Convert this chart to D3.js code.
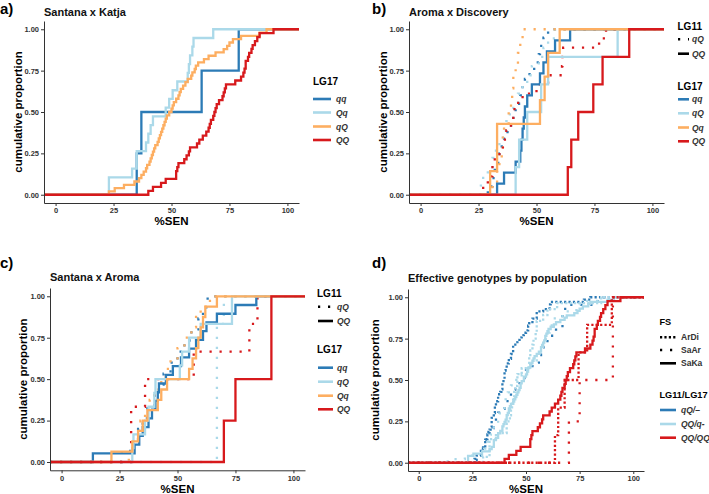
<!DOCTYPE html>
<html>
<head>
<meta charset="utf-8">
<script src="https://cdn.jsdelivr.net/npm/d3@7"></script>
<style>
  body { margin: 0; background: #fff; }
  svg { font-family: "Liberation Sans", Arial, sans-serif; }
</style>
</head>
<body>
<svg width="709" height="494"></svg>
<script>
// Constants
const svg = d3.select('svg');
const colors = { dark: '#2c7bb6', light: '#abd9e9', orange: '#fdae61', red: '#d7191c' };
const x_ticks = [0, 25, 50, 75, 100];
const y_ticks = [0, 0.25, 0.5, 0.75, 1];

// a) Santana x Katja, LG17 groups
const a_qq = [35, 37, 63, 79];
const a_Qq = [23, 23, 33, 35, 35, 39, 40, 41, 42, 47.5, 49, 50.5, 52.5, 57, 57.5, 58, 59, 59.5, 68];
const a_qQ = [23, 25.5, 29.5, 34, 36, 37, 38, 39, 39.5, 40.5, 41, 41.5, 42, 42.5, 43, 44, 44.5, 45, 45.5, 46,
    46.5, 47, 47.5, 48, 49, 50, 50.5, 51, 52, 53, 53.5, 54, 55, 56, 57, 58.5, 59, 60, 60.5, 61.5,
    64, 66, 69, 72.5, 74, 75, 76.5, 80, 88, 91];
const a_QQ = [40, 42, 45.5, 47.5, 52, 52, 52.5, 53, 55.5, 56.5, 57.5, 58, 61, 62, 63.5, 65, 66, 66.5, 67, 68,
    68.5, 69, 69.5, 70.5, 72, 72.5, 73, 73.5, 77.5, 80, 81, 81.5, 82, 82, 83, 83.5, 84.5, 85, 86, 87,
    88, 94];

// b) Aroma x Discovery, LG11 QQ (solid) and qQ (dotted) by LG17
const b_qq_QQ = [33, 36, 41, 43, 43.5, 44, 44.5, 45, 46, 48, 51.5, 53, 54.5, 58, 64.5];
const b_qQ_QQ = [41, 42.5, 46, 52, 55, 85];
const b_Qq_QQ = [30, 33, 33, 51.5, 53.5, 55, 60];
const b_QQ_QQ = [63.5, 65, 68, 74.5, 78.5, 90];
const b_qq_qQ = [29, 31, 32, 33.5, 34, 35, 36, 37.5, 39, 40, 41, 43, 44, 45, 47, 49, 51, 51.5, 53, 55];
const b_qQ_qQ = [26, 27, 29, 31, 32.5, 34, 35.5, 37, 38.5, 40, 42, 44, 46, 48, 51, 53, 55, 58];
const b_Qq_qQ = [31, 33, 34, 35, 35.5, 36, 38, 39, 39.5, 40, 41, 42, 43, 44];
const b_QQ_qQ = [27, 29, 31, 32, 34, 35.5, 37, 39, 40, 40.5, 44, 50, 55, 61, 61.2, 61.5, 77, 80];

// c) Santana x Aroma
const c_qq_QQ = [13.5, 31.5, 33.5, 35, 37.5, 39, 40.5, 41.5, 42, 45, 48, 51.5, 55, 58, 61, 62.5, 67, 75, 84];
const c_qQ_QQ = [30.5, 31, 36, 37.5, 40, 40.5, 51, 52, 55, 60, 73.5, 73.5];
const c_Qq_QQ = [21.5, 30.5, 33, 35, 37, 41.5, 43, 45.5, 55, 56.5, 58, 59, 60, 61, 62, 67];
const c_QQ_QQ = [70, 75, 90.5, 90.5];
const c_qq_qQ = [26, 31, 33, 35, 37, 40, 42, 44, 47, 50, 53, 56, 59, 61, 63];
const c_qQ_qQ = [67, 67, 67, 67, 67, 70];
const c_Qq_qQ = [29, 31, 33, 34, 36, 38, 40, 43, 45, 47, 50, 53, 56, 58, 60, 64];
const c_QQ_qQ = [30, 30, 36, 57, 81, 84.5];

// d) effective genotypes = pooled groups of the three families
const d_ArDi_qQ = [].concat(b_qq_qQ, b_qQ_qQ, b_Qq_qQ, b_QQ_qQ);
const d_ArDi_QQq = [].concat(b_qq_QQ, b_qQ_QQ, b_Qq_QQ);
const d_ArDi_QQQQ = b_QQ_QQ;
const d_SaAr_qQ = [].concat(c_qq_qQ, c_qQ_qQ, c_Qq_qQ, c_QQ_qQ);
const d_SaAr_QQq = [].concat(c_qq_QQ, c_qQ_QQ, c_Qq_QQ);
const d_SaAr_QQQQ = c_QQ_QQ;
const d_SaKa_QQq = [].concat(a_qq, a_Qq, a_qQ);
const d_SaKa_QQQQ = a_QQ;

const dot = '2.2,7.8';
const dense = '2.2,2.2';

const panels = [
    { letter: 'a)', title: 'Santana x Katja', left: 44, right: 299, top: 21, bottom: 203,
      letterXY: [0, 14], titleY: 15.5, ylabX: 17.5, xlabY: 225,
      curves: [
        { v: a_qq, c: colors.dark }, { v: a_Qq, c: colors.light },
        { v: a_qQ, c: colors.orange }, { v: a_QQ, c: colors.red }],
      legend: { x: 313, k0: 313, k1: 331, lx: 336, tsize: 10, groups: [
        { title: 'LG17', ty: 85, items: [
          { label: 'qq', c: colors.dark, y: 99 }, { label: 'Qq', c: colors.light, y: 112.5 },
          { label: 'qQ', c: colors.orange, y: 126.5 }, { label: 'QQ', c: colors.red, y: 140 }] }] } },
    { letter: 'b)', title: 'Aroma x Discovery', left: 409, right: 664, top: 21, bottom: 203,
      letterXY: [372, 14], titleY: 15.5, ylabX: 382.5, xlabY: 225,
      curves: [
        { v: b_qq_qQ, c: colors.dark, d: dot }, { v: b_qQ_qQ, c: colors.light, d: dot },
        { v: b_Qq_qQ, c: colors.orange, d: dot }, { v: b_QQ_qQ, c: colors.red, d: dot },
        { v: b_qq_QQ, c: colors.dark }, { v: b_qQ_QQ, c: colors.light },
        { v: b_Qq_QQ, c: colors.orange }, { v: b_QQ_QQ, c: colors.red }],
      legend: { x: 677.5, k0: 678, k1: 689, lx: 692, tsize: 10, groups: [
        { title: 'LG11', ty: 30, items: [
          { label: 'qQ', c: '#000', d: dot, y: 39.3 }, { label: 'QQ', c: '#000', y: 53.7 }] },
        { title: 'LG17', ty: 90, items: [
          { label: 'qq', c: colors.dark, y: 99.3 }, { label: 'qQ', c: colors.light, y: 113.3 },
          { label: 'Qq', c: colors.orange, y: 127.5 }, { label: 'QQ', c: colors.red, y: 141.3 }] }] } },
    { letter: 'c)', title: 'Santana x Aroma', left: 50, right: 305, top: 288, bottom: 470.3,
      letterXY: [0, 268], titleY: 281, ylabX: 22.5, xlabY: 493,
      curves: [
        { v: c_qq_qQ, c: colors.dark, d: dot }, { v: c_qQ_qQ, c: colors.light, d: dot },
        { v: c_Qq_qQ, c: colors.orange, d: dot }, { v: c_QQ_qQ, c: colors.red, d: dot },
        { v: c_qq_QQ, c: colors.dark }, { v: c_qQ_QQ, c: colors.light },
        { v: c_Qq_QQ, c: colors.orange }, { v: c_QQ_QQ, c: colors.red }],
      legend: { x: 317, k0: 318, k1: 333, lx: 337, tsize: 10, groups: [
        { title: 'LG11', ty: 297, items: [
          { label: 'qQ', c: '#000', d: dot, y: 306.7 }, { label: 'QQ', c: '#000', y: 321 }] },
        { title: 'LG17', ty: 353, items: [
          { label: 'qq', c: colors.dark, y: 367.7 }, { label: 'qQ', c: colors.light, y: 381.7 },
          { label: 'Qq', c: colors.orange, y: 395.7 }, { label: 'QQ', c: colors.red, y: 409.3 }] }] } },
    { letter: 'd)', title: 'Effective genotypes by population', left: 408, right: 644, top: 289, bottom: 471,
      letterXY: [372, 268], titleY: 282, ylabX: 375, xlabY: 493,
      curves: [
        { v: d_ArDi_qQ, c: colors.dark, d: dense }, { v: d_SaAr_qQ, c: colors.dark, d: dot },
        { v: d_ArDi_QQq, c: colors.light, d: dense }, { v: d_SaAr_QQq, c: colors.light, d: dot },
        { v: d_SaKa_QQq, c: colors.light },
        { v: d_ArDi_QQQQ, c: colors.red, d: dense }, { v: d_SaAr_QQQQ, c: colors.red, d: dot },
        { v: d_SaKa_QQQQ, c: colors.red }],
      legend: { x: 659.5, k0: 660, k1: 676, lx: 681, tsize: 9.2, groups: [
        { title: 'FS', ty: 325, items: [
          { label: 'ArDi', c: '#000', d: dense, y: 337.3, up: true }, { label: 'SaAr', c: '#000', d: dot, y: 350, up: true },
          { label: 'SaKa', c: '#000', y: 363.3, up: true }] },
        { title: 'LG11/LG17', ty: 398, items: [
          { label: 'qQ/–', c: colors.dark, y: 410 }, { label: 'QQ/q-', c: colors.light, y: 424 },
          { label: 'QQ/QQ', c: colors.red, y: 437.7 }] }] } }
];

// Step points of an empirical CDF, padded to the panel edges
const ecdf = (values, x0, x1) => {
    const s = values.slice().sort(d3.ascending);
    const n = s.length;
    const pts = [[x0, 0]];
    s.forEach((v, i) => {
        if (i < n - 1 && s[i + 1] === v) return;
        pts.push([v, (i + 1) / n]);
    });
    pts.push([x1, 1]);
    return pts;
};

const render = p => {
    const x = d3.scaleLinear().domain([-5, 105]).range([p.left, p.right]);
    const y = d3.scaleLinear().domain([-0.05, 1.05]).range([p.bottom, p.top]);
    const g = svg.append('g');

    // Curves
    const line = d3.line().x(d => x(d[0])).y(d => y(d[1])).curve(d3.curveStepAfter);
    p.curves.forEach(cv => {
        g.append('path')
            .attr('d', line(ecdf(cv.v, -5, 105)))
            .attr('fill', 'none')
            .attr('stroke', cv.c)
            .attr('stroke-width', 2.3)
            .attr('stroke-dasharray', cv.d || null);
    });

    // Axes
    const styleAxis = a => {
        a.select('.domain').attr('stroke', '#333').attr('stroke-width', 1);
        a.selectAll('.tick line').attr('stroke', '#333');
        a.selectAll('.tick text').attr('fill', '#333').attr('font-size', '7.5px')
            .attr('font-weight', 'bold').attr('font-family', '"Liberation Sans", Arial, sans-serif');
    };
    g.append('g').attr('transform', `translate(0,${p.bottom})`)
        .call(d3.axisBottom(x).tickValues(x_ticks).tickSize(3).tickSizeOuter(0).tickPadding(2))
        .call(styleAxis);
    g.append('g').attr('transform', `translate(${p.left},0)`)
        .call(d3.axisLeft(y).tickValues(y_ticks).tickFormat(d3.format('.2f')).tickSize(3).tickSizeOuter(0).tickPadding(2))
        .call(styleAxis);

    // Labels
    g.append('text').attr('x', p.letterXY[0]).attr('y', p.letterXY[1])
        .attr('font-size', '15px').attr('font-weight', 'bold').text(p.letter);
    g.append('text').attr('x', p.left).attr('y', p.titleY)
        .attr('font-size', '11px').attr('font-weight', 'bold').attr('fill', '#111').text(p.title);
    g.append('text').attr('x', (p.left + p.right) / 2).attr('y', p.xlabY)
        .attr('text-anchor', 'middle').attr('font-size', '11.5px').attr('font-weight', 'bold').text('%SEN');
    g.append('text')
        .attr('transform', `translate(${p.ylabX + 4},${(p.top + p.bottom) / 2}) rotate(-90)`)
        .attr('text-anchor', 'middle').attr('font-size', '11.5px').attr('font-weight', 'bold')
        .text('cumulative proportion');

    // Legend
    const L = p.legend;
    L.groups.forEach(grp => {
        g.append('text').attr('x', L.x).attr('y', grp.ty)
            .attr('font-size', L.tsize + 'px').attr('font-weight', 'bold').text(grp.title);
        grp.items.forEach(it => {
            g.append('line')
                .attr('x1', L.k0).attr('x2', L.k1).attr('y1', it.y).attr('y2', it.y)
                .attr('stroke', it.c).attr('stroke-width', 2.6)
                .attr('stroke-dasharray', it.d || null);
            g.append('text').attr('x', L.lx).attr('y', it.y + 3)
                .attr('font-size', '8.5px').attr('font-weight', 'bold')
                .attr('font-style', it.up ? 'normal' : 'italic').attr('fill', '#333')
                .text(it.label);
        });
    });
};

panels.forEach(render);
</script>
</body>
</html>
